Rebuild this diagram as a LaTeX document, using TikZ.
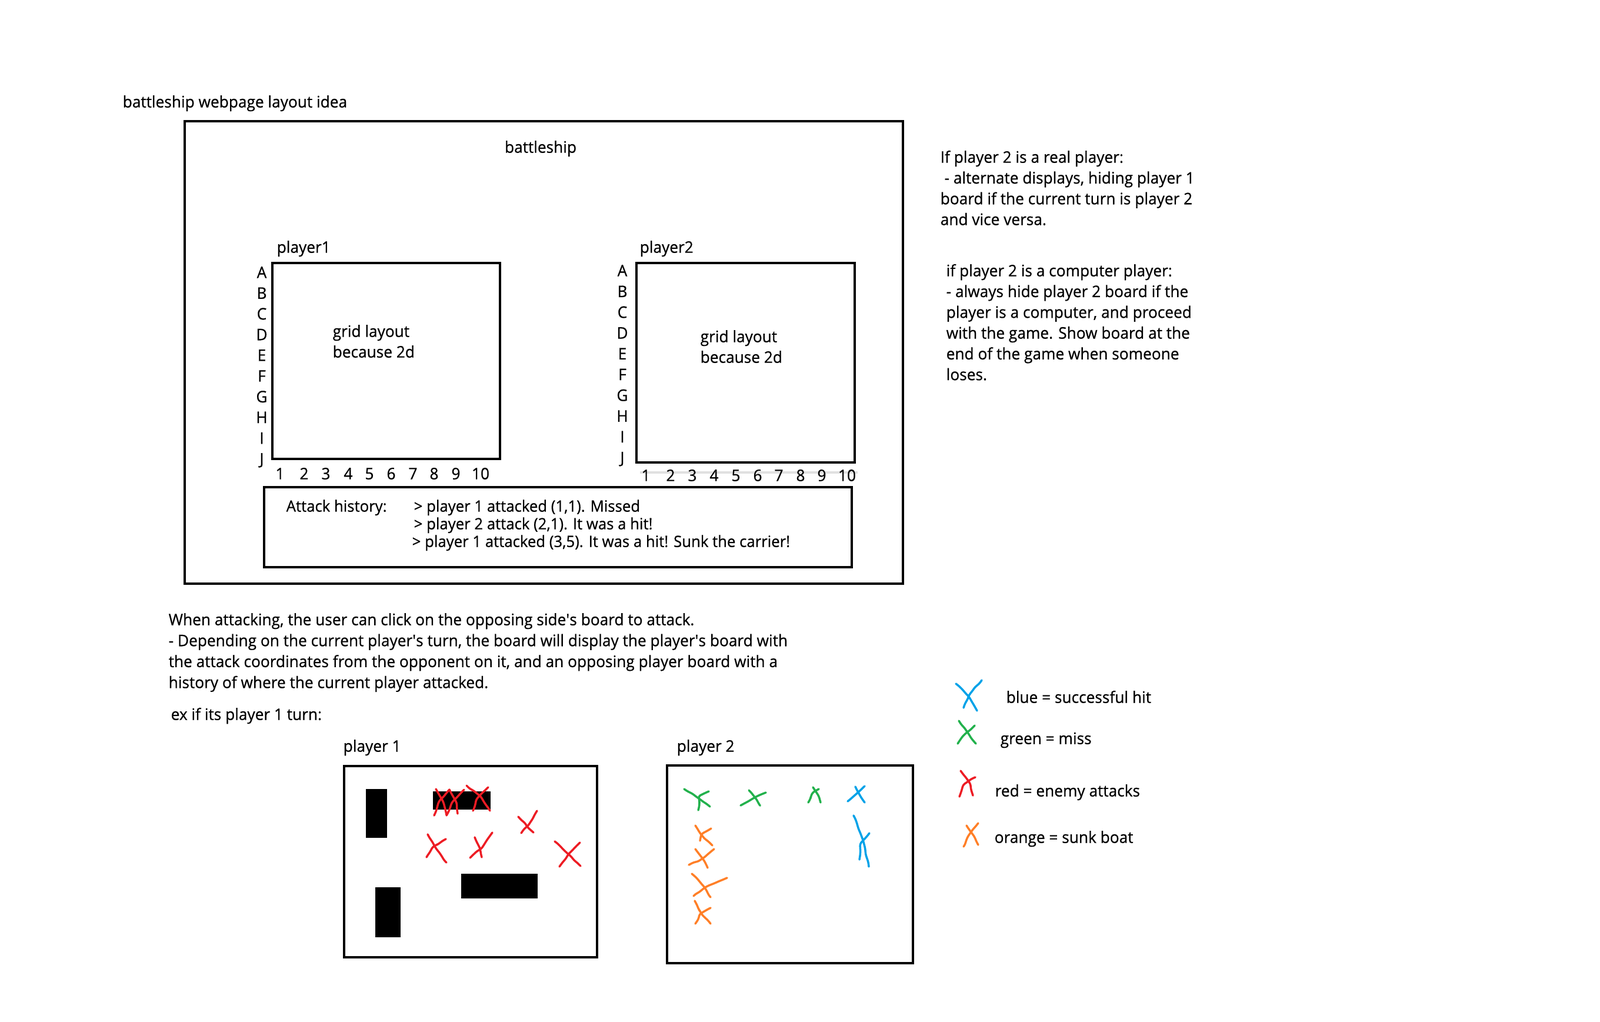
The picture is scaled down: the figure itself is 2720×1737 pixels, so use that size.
\documentclass[tikz,border=0pt]{standalone}
\usepackage{fontspec}
\setmainfont{Open Sans}[FakeStretch=0.97, FakeBold=0.6]
\usetikzlibrary{decorations.pathmorphing}
\definecolor{pred}{RGB}{237,28,36}
\definecolor{pgreen}{RGB}{34,177,76}
\definecolor{pblue}{RGB}{0,162,232}
\definecolor{porange}{RGB}{255,127,39}
\newcommand{\ap}{\textquotesingle}
\begin{document}
\begin{tikzpicture}[x=0.01cm,y=-0.01cm,
  txt/.style={inner sep=0pt, text height=0.55em, text depth=0pt, anchor=west, font=\fontsize{7.7pt}{9pt}\selectfont},
  small/.style={txt, font=\fontsize{7.55pt}{8.5pt}\selectfont},
  capl/.style={txt, text height=0.72em, anchor=center},
  frame/.style={draw=black, line width=1.4pt},
  ship/.style={fill=black},
  hand/.style={line width=1pt, line cap=round, line join=round, rounded corners=1pt, decorate,
    decoration={random steps, segment length=2.2pt, amplitude=0.3pt}},
]
\useasboundingbox[fill=white] (0,0) rectangle (2720,1737);

% title
\node[txt] (title) at (208,173) {battleship webpage layout idea};

% outer frame
\draw[frame] (314,206) rectangle (1535,992);
\node[txt, anchor=center] (bship) at (919,250) {battleship};

% player 1 board
\node[txt] (p1lab) at (470,420) {player1};
\draw[frame] (463,447) rectangle (850,780);
\node[txt] (p1g1) at (565,563) {grid layout};
\node[txt] (p1g2) at (565,598) {because 2d};
\foreach \L [count=\i from 0] in {A,B,C,D,E,F,G,H,I,J}
  \node[capl] (pa\L) at (445,{460+35.2*\i}) {\L};
\foreach \x [count=\n] in {476,517,554,592,628,665,702,738,775,817}
  \node[capl] (pan\n) at (\x,802) {\n};

% player 2 board
\node[txt] (p2lab) at (1087,420) {player2};
\draw[black!12, line width=0.9pt] (1088,803) -- (1458,803);
\draw[frame] (1082,447) rectangle (1453,786);
\node[txt] (p2g1) at (1190,572) {grid layout};
\node[txt] (p2g2) at (1190,607) {because 2d};
\foreach \L [count=\i from 0] in {A,B,C,D,E,F,G,H,I,J}
  \node[capl] (pb\L) at (1058,{457+35.3*\i}) {\L};
\foreach \x [count=\n] in {1098,1140,1177,1214,1251,1288,1324,1361,1397,1440}
  \node[capl] (pbn\n) at (\x,805) {\n};

% attack history
\draw[frame] (449,828) rectangle (1448,964);
\node[small] (ah) at (486,860) {Attack history:};
\node[small] (ah1) at (703,860) {> player 1 attacked (1,1). Missed};
\node[small] (ah2) at (703,890) {> player 2 attack (2,1). It was a hit!};
\node[small] (ah3) at (700,920) {> player 1 attacked (3,5). It was a hit! Sunk the carrier!};

% right notes
\foreach \t [count=\i from 0] in {{If player 2 is a real player:},{\ - alternate displays, hiding player 1},{board if the current turn is player 2},{and vice versa.}}
  \node[txt] (ra\i) at (1598,{267+35.3*\i}) {\t};
\foreach \t [count=\i from 0] in {{if player 2 is a computer player:},{- always hide player 2 board if the},{player is a computer, and proceed},{with the game. Show board at the},{end of the game when someone},{loses.}}
  \node[txt] (rb\i) at (1608,{460+35.3*\i}) {\t};

% bottom explanation
\foreach \t [count=\i from 0] in {{When attacking, the user can click on the opposing side\ap s board to attack.},{- Depending on the current player\ap s turn, the board will display the player\ap s board with},{the attack coordinates from the opponent on it, and an opposing player board with a},{history of where the current player attacked.}}
  \node[txt] (bt\i) at (286,{1053+35.6*\i}) {\t};
\node[txt] (ex) at (290,1214) {ex if its player 1 turn:};

% bottom player 1 board
\node[txt] (q1lab) at (583,1268) {player 1};
\draw[frame] (585,1302) rectangle (1015,1627);
\fill[ship] (622,1341) rectangle (658,1424);
\fill[ship] (736,1345) rectangle (834,1376);
\fill[ship] (784,1485) rectangle (914,1527);
\fill[ship] (638,1508) rectangle (681,1593);
\begin{scope}[pred]
\draw[hand] (741,1341) -- (752,1360) -- (759,1385);
\draw[hand] (764,1342) -- (748,1360) -- (738,1386);
\draw[hand] (764,1342) -- (775,1362) -- (778,1383);
\draw[hand] (789,1342) -- (770,1362) -- (759,1386);
\draw[hand] (793,1335) -- (815,1352) -- (833,1378);
\draw[hand] (830,1338) -- (812,1356) -- (804,1378);
\draw[hand] (881,1388) -- (907,1415);
\draw[hand] (913,1378) -- (900,1400) -- (886,1416);
\draw[hand] (727,1418) -- (740,1440) -- (759,1466);
\draw[hand] (758,1426) -- (738,1438) -- (725,1457);
\draw[hand] (807,1423) -- (815,1440) -- (819,1457);
\draw[hand] (837,1415) -- (820,1440) -- (799,1458);
\draw[hand] (943,1430) -- (962,1448) -- (987,1472);
\draw[hand] (986,1432) -- (968,1450) -- (951,1473);
\end{scope}

% bottom player 2 board
\node[txt] (q2lab) at (1150,1268) {player 2};
\draw[frame] (1134,1301) rectangle (1552,1637);
\begin{scope}[pgreen]
\draw[hand] (1163,1341) -- (1185,1355) -- (1207,1371);
\draw[hand] (1205,1345) -- (1190,1352) -- (1187,1377);
\draw[hand] (1259,1369) -- (1282,1356) -- (1302,1347);
\draw[hand] (1273,1343) -- (1284,1356) -- (1292,1369);
\draw[hand] (1374,1364) -- (1380,1350) -- (1392,1341);
\draw[hand] (1382,1338) -- (1390,1350) -- (1395,1364);
\end{scope}
\begin{scope}[pblue]
\draw[hand] (1441,1362) -- (1455,1350) -- (1470,1336);
\draw[hand] (1454,1337) -- (1462,1352) -- (1470,1364);
\draw[hand] (1451,1386) -- (1466,1425) -- (1477,1473);
\draw[hand] (1478,1416) -- (1464,1432) -- (1461,1461);
\end{scope}
\begin{scope}[porange]
\draw[hand] (1182,1403) -- (1195,1422) -- (1211,1437);
\draw[hand] (1209,1408) -- (1195,1416) -- (1190,1429);
\draw[hand] (1182,1443) -- (1195,1460) -- (1203,1475);
\draw[hand] (1214,1443) -- (1190,1462) -- (1171,1470);
\draw[hand] (1176,1485) -- (1195,1505) -- (1208,1525);
\draw[hand] (1236,1492) -- (1205,1505) -- (1179,1523);
\draw[hand] (1181,1531) -- (1192,1552) -- (1208,1570);
\draw[hand] (1208,1543) -- (1192,1552) -- (1182,1570);
\end{scope}

% legend
\draw[hand, pblue] (1625,1162) -- (1645,1182) -- (1661,1208);
\draw[hand, pblue] (1669,1156) -- (1650,1178) -- (1638,1203);
\node[txt] (lg1) at (1710,1185) {blue = successful hit};
\draw[hand, pgreen] (1630,1225) -- (1645,1245) -- (1659,1264);
\draw[hand, pgreen] (1657,1233) -- (1640,1248) -- (1628,1264);
\node[txt] (lg2) at (1700,1255) {green = miss};
\draw[hand, pred] (1633,1310) -- (1648,1330) -- (1654,1352);
\draw[hand, pred] (1658,1321) -- (1640,1332) -- (1631,1354);
\node[txt] (lg3) at (1691,1344) {red = enemy attacks};
\draw[hand, porange] (1643,1403) -- (1655,1420) -- (1663,1436);
\draw[hand, porange] (1663,1399) -- (1648,1418) -- (1638,1439);
\node[txt] (lg4) at (1690,1423) {orange = sunk boat};
\end{tikzpicture}
\end{document}
